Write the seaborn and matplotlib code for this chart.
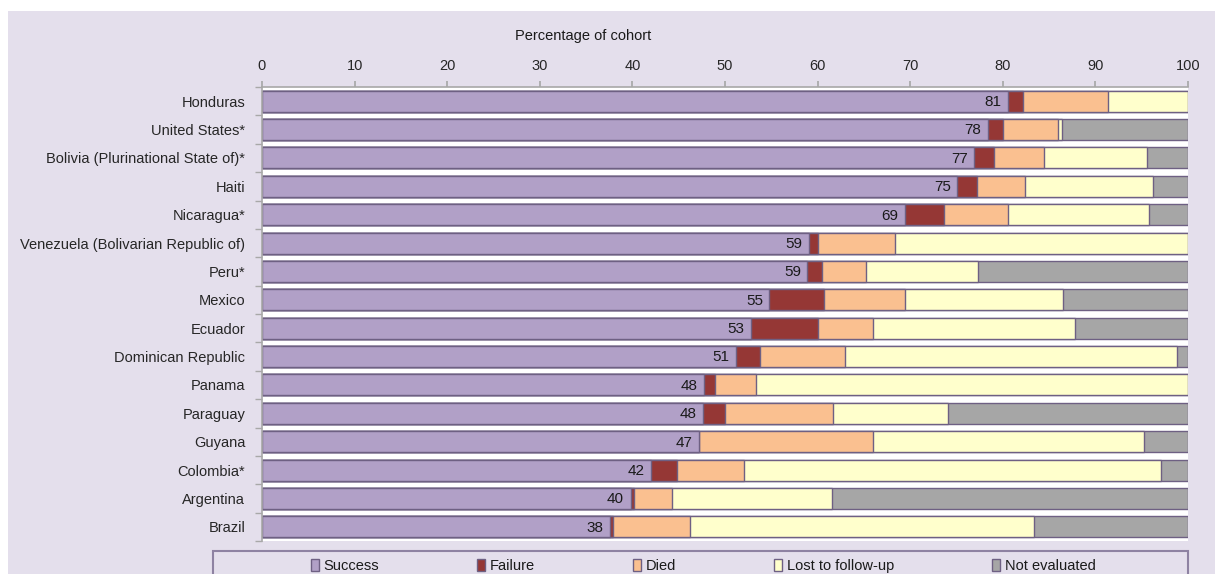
import numpy as np
import pandas as pd
import matplotlib
matplotlib.use("Agg")
import matplotlib.pyplot as plt
import seaborn as sns
from matplotlib.patches import Rectangle, Patch

# Treatment outcomes by country, percentage of cohort
countries = [
    "Honduras", "United States*", "Bolivia (Plurinational State of)*", "Haiti",
    "Nicaragua*", "Venezuela (Bolivarian Republic of)", "Peru*", "Mexico",
    "Ecuador", "Dominican Republic", "Panama", "Paraguay", "Guyana",
    "Colombia*", "Argentina", "Brazil",
]
success = [80.6, 78.4, 76.9, 75.1, 69.4, 59.1, 58.9, 54.8, 52.8, 51.2, 47.7, 47.6, 47.2, 42.0, 39.8, 37.6]
failure = [1.6, 1.6, 2.1, 2.1, 4.2, 0.9, 1.6, 5.9, 7.2, 2.6, 1.2, 2.4, 0.0, 2.8, 0.4, 0.3]
died = [9.2, 6.0, 5.4, 5.2, 7.0, 8.4, 4.7, 8.7, 6.0, 9.2, 4.4, 11.7, 18.8, 7.2, 4.1, 8.3]
lost = [8.6, 0.4, 11.2, 13.8, 15.2, 31.6, 12.1, 17.1, 21.8, 35.8, 46.7, 12.4, 29.3, 45.1, 17.3, 37.2]
not_evaluated = [0.0, 13.6, 4.4, 3.8, 4.2, 0.0, 22.7, 13.5, 12.2, 1.2, 0.0, 25.9, 4.7, 2.9, 38.4, 16.6]

outcomes = ["Success", "Failure", "Died", "Lost to follow-up", "Not evaluated"]
colors = ["#B1A0C7", "#953735", "#FAC090", "#FFFFCC", "#A6A6A6"]
x_ticks = list(range(0, 101, 10))

BG = "#E4DFEC"
EDGE = "#6E6083"
AXIS_GRAY = "#A8A8A8"
FS = 10.5

sns.set_theme(style="white")
plt.rcParams["font.family"] = ["Liberation Sans", "DejaVu Sans"]
plt.rcParams["text.color"] = "#1A1A1A"

W, H = 1215, 574
fig = plt.figure(figsize=(W / 100, H / 100), dpi=100, facecolor="white")
fig.patches.append(Rectangle((8 / W, 0), 1 - 8 / W, 1 - 11 / H, transform=fig.transFigure,
                             facecolor=BG, edgecolor="none", zorder=-5))

ax = fig.add_axes([262 / W, 1 - 541 / H, 926 / W, (541 - 87) / H])
ax.set_facecolor("white")

df = pd.DataFrame({"Country": countries, "Success": success, "Failure": failure,
                   "Died": died, "Lost to follow-up": lost, "Not evaluated": not_evaluated})
cum = df[outcomes].cumsum(axis=1)
cum.insert(0, "Country", df["Country"])

# Stack by overlaying cumulative totals, longest first
for name, color in reversed(list(zip(outcomes, colors))):
    sns.barplot(data=cum, x=name, y="Country", orient="y", color=color, saturation=1,
                width=0.74, edgecolor=EDGE, linewidth=1.0, ax=ax)

for i, v in enumerate(success):
    ax.text(v - 0.7, i + 0.03, f"{v:.0f}", ha="right", va="center", fontsize=11)

ax.set_xlim(0, 100)
ax.set_ylim(len(countries) - 0.5, -0.5)
ax.set_xticks(x_ticks)
ax.set_xlabel("")
ax.set_ylabel("")
ax.xaxis.tick_top()
ax.tick_params(axis="x", top=True, labeltop=True, bottom=False, labelbottom=False,
               length=4, color=AXIS_GRAY, pad=6, labelsize=FS)
ax.set_yticks(np.arange(-0.5, len(countries), 1.0), minor=True)
ax.tick_params(axis="y", which="major", length=0, pad=12, labelsize=FS)
ax.tick_params(axis="y", which="minor", left=True, length=5, color=AXIS_GRAY, direction="out")
for side in ["right", "bottom"]:
    ax.spines[side].set_visible(False)
for side in ["top", "left"]:
    ax.spines[side].set_color(AXIS_GRAY)
    ax.spines[side].set_linewidth(1.2)

fig.text(583 / W, 1 - 36 / H, "Percentage of cohort", ha="center", va="center", fontsize=FS)

# Legend frame running off the lower edge
fig.patches.append(Rectangle((213 / W, -0.05), (1188 - 213) / W, 0.05 + 1 - 551 / H,
                             transform=fig.transFigure, facecolor="none",
                             edgecolor="#8E82A2", linewidth=1.5, zorder=1))
handles = [Patch(facecolor=c, edgecolor=EDGE, linewidth=1) for c in colors]
fig.legend(handles, outcomes, loc="center", bbox_to_anchor=(703 / W, 1 - 566 / H),
           ncol=5, frameon=False, columnspacing=6.75, handlelength=0.55, handleheight=0.8,
           handletextpad=0.3, fontsize=FS)

fig.savefig("out.png", dpi=100, facecolor="white")
